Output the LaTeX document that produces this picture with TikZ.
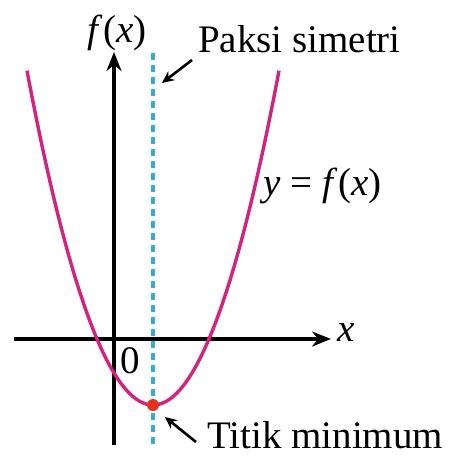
\documentclass[tikz,border=0pt]{standalone}
\usepackage{fontspec}
\setmainfont{Liberation Serif}
\usetikzlibrary{arrows.meta}
\definecolor{curvecol}{HTML}{D3237E}
\definecolor{symcol}{HTML}{3EA8D8}
\definecolor{dotcol}{HTML}{E2321F}
\tikzset{
  lbl/.style={inner sep=0pt, font=\fontsize{39}{42}\selectfont},
  axis/.style={line width=3.2pt, -{Stealth[length=19pt,width=15pt]}},
  pointer/.style={line width=2.6pt, -{Stealth[length=12pt,width=11pt]}},
  curve/.style={curvecol, line width=3.4pt},
  symline/.style={symcol, line width=3.6pt, dash pattern=on 7pt off 5pt}
}
\begin{document}
\begin{tikzpicture}[x=1pt,y=-1pt]
\useasboundingbox (0,0) rectangle (454,456);
% axes
\coordinate (xs) at (14,339);
\coordinate (xe) at (331,339);
\coordinate (ys) at (114,445);
\coordinate (ye) at (114,52);
\draw[axis] (xs) -- (xe);
\draw[axis] (ys) -- (ye);
% axis of symmetry
\coordinate (ss) at (153,53);
\coordinate (se) at (153,445);
\draw[symline] (ss) -- (se);
% parabola
\draw[curve, domain=-126:126, samples=120, smooth] plot ({153+\x},{405-0.02105*\x*\x});
% minimum point
\node[circle, fill=dotcol, inner sep=0pt, minimum size=12pt] (vtx) at (153,405) {};
% labels
\node[lbl] (xl) at (346,333) {\textit{x}};
\node[lbl] (fl) at (117,33) {\textit{f}\kern1pt(\textit{x})};
\node[lbl] (zero) at (130,361) {0};
\node[lbl, anchor=base west] (ps) at (198,52) {Paksi simetri};
\node[lbl, anchor=base west] (tm) at (207,448) {Titik minimum};
\node[lbl, anchor=base west] (yf) at (263,195) {\textit{y} = \textit{f}\kern1pt(\textit{x})};
% pointers
\coordinate (pa) at (192,60);
\coordinate (pb) at (162,83);
\draw[pointer] (pa) -- (pb);
\coordinate (ta) at (196,442);
\coordinate (tb) at (165,417);
\draw[pointer] (ta) -- (tb);
\end{tikzpicture}
\end{document}
